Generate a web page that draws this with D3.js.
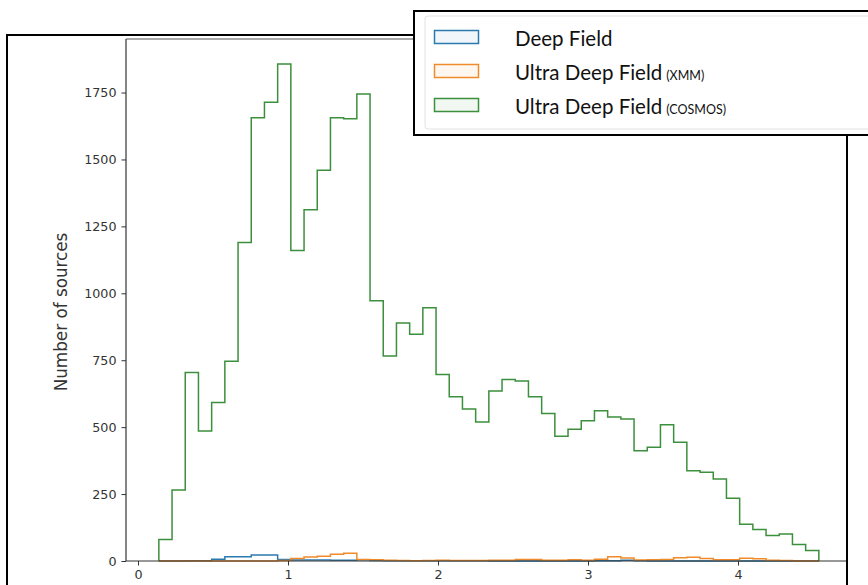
<!DOCTYPE html>
<html>
<head>
<meta charset="utf-8">
<script src="https://cdn.jsdelivr.net/npm/d3@7/dist/d3.min.js"></script>
<style>
  html, body { margin: 0; padding: 0; background: #fff; }
  svg { display: block; }
</style>
</head>
<body>
<svg id="chart" width="868" height="585"></svg>
<script>
// Histogram binning (redshift): 50 equal-width bins
const binStart = 0.139;
const binWidth = 0.088;

// Counts per bin for each survey field
const deepField = [0, 0, 1, 1, 7, 16, 16, 22, 22, 6,
                   4, 4, 4, 3, 3, 5, 2, 1, 1, 1,
                   1, 1, 1, 1, 1, 0, 0, 0, 0, 0,
                   0, 0, 0, 1, 1, 3, 1, 0, 0, 0,
                   0, 0, 0, 0, 0, 0, 0, 0, 0, 0];
const ultraDeepXMM = [0, 0, 0, 0, 0, 0, 0, 0, 0, 2,
                      9, 15, 18, 25, 29, 6, 5, 3, 2, 1,
                      2, 3, 2, 2, 2, 3, 3, 6, 6, 3,
                      3, 5, 3, 7, 16, 11, 4, 5, 6, 12,
                      14, 9, 5, 5, 10, 8, 3, 2, 0, 0];
const ultraDeepCOSMOS = [80, 265, 704, 486, 592, 746, 1190, 1656, 1714, 1857,
                         1160, 1312, 1460, 1656, 1652, 1745, 972, 766, 889, 847,
                         946, 697, 614, 568, 519, 635, 678, 672, 614, 551,
                         466, 492, 524, 561, 538, 530, 412, 425, 509, 444,
                         337, 332, 306, 234, 137, 118, 95, 101, 62, 39];

const seriesNames = ["Deep Field", "Ultra Deep Field", "Ultra Deep Field"];
const seriesTags = ["", "(XMM)", "(COSMOS)"];
const seriesColors = ["#2a7ab0", "#f08a2a", "#3c8f3c"];
const seriesData = [deepField, ultraDeepXMM, ultraDeepCOSMOS];

const xTicks = [0, 1, 2, 3, 4];
const yTicks = [0, 250, 500, 750, 1000, 1250, 1500, 1750];
const yLabel = "Number of sources";

const svg = d3.select("#chart");

// Axes area
const plotLeft = 126, plotRight = 852, plotTop = 39, plotBottom = 561;
const frame = { x: 7, y: 35, right: 847 };

const x = d3.scaleLinear().domain([-0.08, 4.76]).range([plotLeft, plotRight]);
const y = d3.scaleLinear().domain([0, 1950]).range([plotBottom, plotTop]);

svg.append("rect").attr("width", 868).attr("height", 585).attr("fill", "#fff");

svg.append("defs").append("clipPath").attr("id", "frameClip")
  .append("rect").attr("x", 0).attr("y", 0)
  .attr("width", frame.right).attr("height", 585);

const plot = svg.append("g").attr("clip-path", "url(#frameClip)");

// Step outline for one histogram
function stepPoints(counts) {
  const pts = [[binStart, 0]];
  counts.forEach((c, i) => {
    pts.push([binStart + i * binWidth, c]);
    pts.push([binStart + (i + 1) * binWidth, c]);
  });
  pts.push([binStart + counts.length * binWidth, 0]);
  return pts;
}

const line = d3.line().x(d => x(d[0])).y(d => y(d[1]));

seriesData.forEach((counts, i) => {
  plot.append("path")
    .attr("d", line(stepPoints(counts)))
    .attr("fill", "none")
    .attr("stroke", seriesColors[i])
    .attr("stroke-width", 1.5)
    .attr("stroke-linejoin", "miter");
});

// Axes
const tickFont = "'DejaVu Sans', sans-serif";
const yAxis = plot.append("g").attr("transform", `translate(${plotLeft},0)`)
  .call(d3.axisLeft(y).tickValues(yTicks).tickSize(4.5).tickPadding(5).tickFormat(d3.format("d")));
const xAxis = plot.append("g").attr("transform", `translate(0,${plotBottom})`)
  .call(d3.axisBottom(x).tickValues(xTicks).tickSize(4.5).tickPadding(4).tickFormat(d3.format("d")));

[yAxis, xAxis].forEach(g => {
  g.select(".domain").remove();
  g.selectAll(".tick line").attr("stroke", "#333").attr("stroke-width", 1);
  g.selectAll(".tick text").attr("fill", "#333")
    .style("font-family", tickFont).style("font-size", "12.7px");
});

// Spines
plot.append("line").attr("x1", plotLeft).attr("x2", plotLeft)
  .attr("y1", plotTop).attr("y2", plotBottom).attr("stroke", "#333").attr("stroke-width", 1.2);
plot.append("line").attr("x1", plotLeft).attr("x2", plotRight)
  .attr("y1", plotBottom).attr("y2", plotBottom).attr("stroke", "#333").attr("stroke-width", 1.2);
plot.append("line").attr("x1", plotLeft).attr("x2", plotRight)
  .attr("y1", plotTop).attr("y2", plotTop).attr("stroke", "#555").attr("stroke-width", 1);

// Y axis label
svg.append("text")
  .attr("transform", `translate(61,${(plotTop + plotBottom) / 2 + 12}) rotate(-90)`)
  .attr("text-anchor", "middle")
  .attr("dominant-baseline", "central")
  .attr("fill", "#333")
  .style("font-family", tickFont)
  .style("font-size", "16.8px")
  .text(yLabel);

// Outer frame
svg.append("rect")
  .attr("x", frame.x).attr("y", frame.y)
  .attr("width", frame.right - frame.x).attr("height", 620)
  .attr("fill", "none").attr("stroke", "#000").attr("stroke-width", 2);

// Legend
const legend = svg.append("g");
legend.append("rect").attr("x", 414).attr("y", 11).attr("width", 470).attr("height", 124)
  .attr("fill", "#fff").attr("stroke", "#000").attr("stroke-width", 2);
legend.append("rect").attr("x", 425).attr("y", 16).attr("width", 470).attr("height", 113)
  .attr("rx", 3).attr("fill", "#fff").attr("stroke", "#e2e2e2").attr("stroke-width", 1);

const rowY = d3.scalePoint().domain(d3.range(seriesNames.length)).range([37, 105]);
seriesNames.forEach((name, i) => {
  const cy = rowY(i);
  legend.append("rect")
    .attr("x", 434.5).attr("y", cy - 6.5).attr("width", 44).attr("height", 13)
    .attr("fill", seriesColors[i]).attr("fill-opacity", 0.07)
    .attr("stroke", seriesColors[i]).attr("stroke-width", 1.5);
  const t = legend.append("text")
    .attr("x", 515).attr("y", cy + 8.5)
    .attr("fill", "#111")
    .style("font-family", "Lato, sans-serif")
    .style("font-size", "20.5px");
  t.append("tspan").text(name);
  if (seriesTags[i]) {
    t.append("tspan").attr("dx", 4).style("font-size", "12.5px").text(seriesTags[i]);
  }
});
</script>
</body>
</html>
